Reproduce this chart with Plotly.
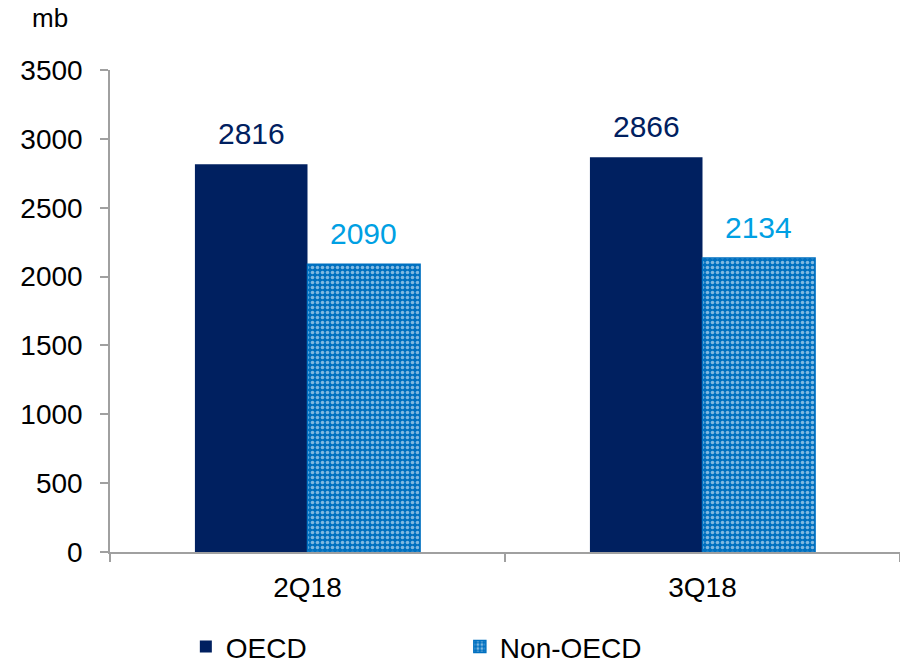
import plotly.graph_objects as go

categories = ["2Q18", "3Q18"]
oecd = [2816, 2866]
non_oecd = [2090, 2134]
y_ticks = [0, 500, 1000, 1500, 2000, 2500, 3000, 3500]

FONT = "Liberation Sans, Arial, sans-serif"
BARGAP = 0.43
OECD_COLOR = "#002060"
NON_COLOR = "#0070C0"
NON_LABEL = "#00A0E3"

fig = go.Figure()
fig.add_trace(go.Bar(
    x=categories, y=oecd, name="OECD",
    marker=dict(color=OECD_COLOR, line=dict(width=0)),
))
fig.add_trace(go.Bar(
    x=categories, y=non_oecd, name="Non-OECD",
    marker=dict(color=NON_COLOR,
                line=dict(width=1.5, color=NON_COLOR),
                pattern=dict(shape=".", fgcolor="white", bgcolor=NON_COLOR,
                             size=5, solidity=0.4, fillmode="overlay")),
))

# value labels placed above each bar, positioned via the category axis
half = (1 - BARGAP) / 4
annotations = []
for i, (a, b) in enumerate(zip(oecd, non_oecd)):
    annotations.append(dict(x=i - half, y=a, xref="x", yref="y", text=str(a),
                            showarrow=False, yanchor="bottom", yshift=12,
                            font=dict(size=30, color=OECD_COLOR, family=FONT)))
    annotations.append(dict(x=i + half, y=b, xref="x", yref="y", text=str(b),
                            showarrow=False, yanchor="bottom", yshift=12,
                            font=dict(size=30, color=NON_LABEL, family=FONT)))
annotations.append(dict(text="mb", x=-0.076, y=1.107, xref="paper", yref="paper",
                        xanchor="center", yanchor="middle", showarrow=False,
                        font=dict(size=26, family=FONT, color="black")))

fig.update_layout(
    width=900, height=666,
    margin=dict(l=110, r=0, t=70, b=114, autoexpand=False),
    paper_bgcolor="white", plot_bgcolor="white",
    barmode="group", bargap=BARGAP, bargroupgap=0,
    font=dict(family=FONT, size=28, color="black"),
    showlegend=True,
    legend=dict(orientation="h", x=0.096, xanchor="left", y=-0.145, yanchor="top",
                font=dict(size=28, family=FONT, color="black"),
                traceorder="normal", entrywidth=229, entrywidthmode="pixels"),
    annotations=annotations,
)

fig.update_yaxes(range=[0, 3500], tickvals=y_ticks, showgrid=False,
                 showline=True, linecolor="#A0A0A0", linewidth=1.5,
                 ticks="outside", ticklen=8, tickcolor="#A0A0A0", tickwidth=1.5,
                 zeroline=False, tickfont=dict(size=28, family=FONT), ticklabelstandoff=12)
fig.update_xaxes(showgrid=False, showline=True, linecolor="#A0A0A0", linewidth=1.5,
                 ticks="outside", ticklen=8, tickcolor="#A0A0A0", tickwidth=1.5,
                 tickson="boundaries", tickfont=dict(size=28, family=FONT),
                 ticklabelstandoff=10)

fig.write_html("out.html")
